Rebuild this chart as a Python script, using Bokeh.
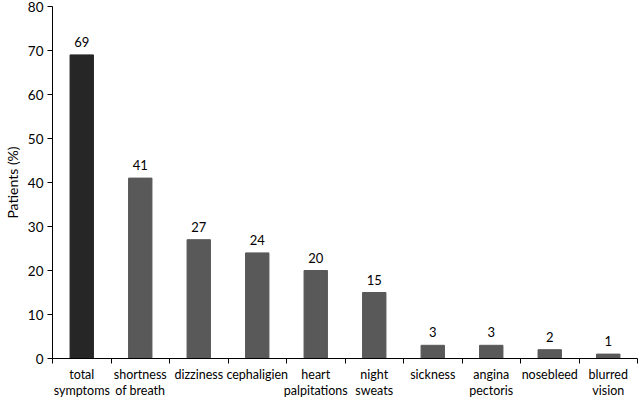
from bokeh.plotting import figure
from bokeh.models import FixedTicker, Range1d, ColumnDataSource
from bokeh.embed import file_html
from bokeh.resources import INLINE
from bokeh.core.properties import value

categories = ["total\nsymptoms", "shortness\nof breath", "dizziness", "cephaligien",
              "heart\npalpitations", "night\nsweats", "sickness", "angina\npectoris",
              "nosebleed", "blurred\nvision"]
values = [69, 41, 27, 24, 20, 15, 3, 3, 2, 1]
colors = ["#262626"] + ["#595959"] * 9
y_ticks = [0, 10, 20, 30, 40, 50, 60, 70, 80]

FONT = "Lato"

xs = [i + 0.5 for i in range(len(categories))]
src = ColumnDataSource(dict(x=xs, top=values, color=colors, lbl=[str(v) for v in values]))

p = figure(width=638, height=400, output_backend="svg", toolbar_location=None,
           x_range=Range1d(0, len(categories)), y_range=Range1d(0, 80))
p.min_border_left = 51
p.min_border_right = 1
p.min_border_top = 6
p.min_border_bottom = 41
p.outline_line_color = None
p.xgrid.visible = False
p.ygrid.visible = False
p.background_fill_color = "white"

p.vbar(x="x", top="top", width=0.4, fill_color="color", line_color="color", source=src)
p.text(x="x", y="top", text="lbl", source=src, text_align="center", text_baseline="bottom",
       y_offset=-8, text_font=value(FONT), text_font_size="13px", text_color="#000000")

p.xaxis.ticker = FixedTicker(ticks=xs, minor_ticks=list(range(len(categories) + 1)))
p.xaxis.major_label_overrides = {x: c for x, c in zip(xs, categories)}
p.xaxis.major_tick_out = 0
p.xaxis.major_tick_in = 0
p.xaxis.minor_tick_out = 5
p.xaxis.minor_tick_in = 0
p.xaxis.major_label_standoff = 3
p.xaxis.major_label_text_font = FONT
p.xaxis.major_label_text_font_size = "12.5px"
p.xaxis.major_label_text_line_height = 1.08
p.xaxis.major_label_text_color = "#000000"
p.xaxis.axis_line_color = "#000000"
p.xaxis.minor_tick_line_color = "#000000"

p.yaxis.ticker = FixedTicker(ticks=y_ticks, minor_ticks=[])
p.yaxis.major_tick_out = 5
p.yaxis.major_tick_in = 0
p.yaxis.major_label_standoff = 4
p.yaxis.major_label_text_font = FONT
p.yaxis.major_label_text_font_size = "13.5px"
p.yaxis.major_label_text_color = "#000000"
p.yaxis.axis_line_color = "#000000"
p.yaxis.major_tick_line_color = "#000000"
p.yaxis.axis_label = "Patients (%)"
p.yaxis.axis_label_text_font = FONT
p.yaxis.axis_label_text_font_size = "14px"
p.yaxis.axis_label_text_font_style = "normal"
p.yaxis.axis_label_text_color = "#000000"
p.yaxis.axis_label_standoff = 4

open("out.html", "w").write(file_html(p, INLINE))
